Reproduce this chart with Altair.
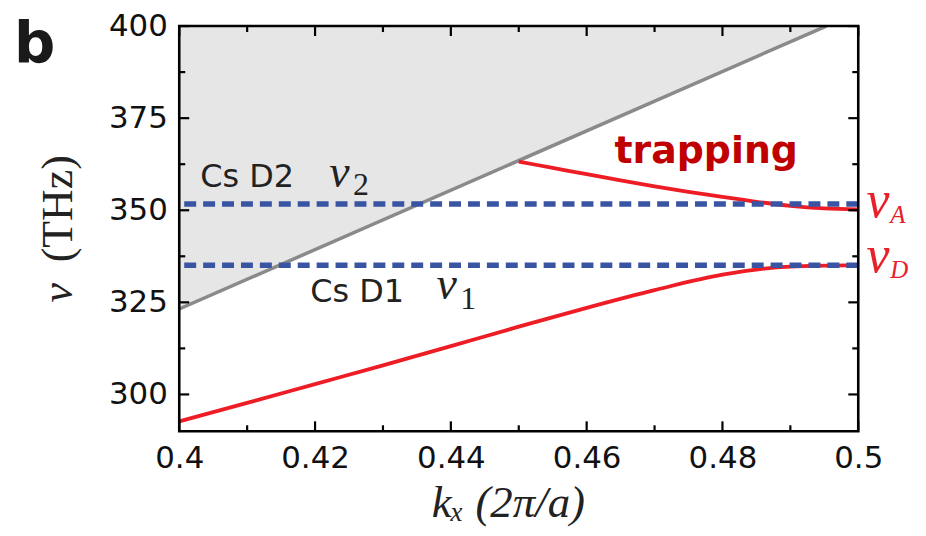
import altair as alt
import pandas as pd

# ---- data ----
k_light = [0.40, 0.4953]
nu_light = [323.2, 400.0]

k_lower = [0.40, 0.41, 0.42, 0.43, 0.44, 0.45, 0.46, 0.47, 0.48, 0.49, 0.50]
nu_lower = [292.7, 297.7, 302.8, 307.9, 313.1, 318.4, 323.5, 328.3, 332.5, 334.7, 335.1]

k_upper = [0.45, 0.455, 0.46, 0.465, 0.47, 0.475, 0.48, 0.485, 0.49, 0.495, 0.50]
nu_upper = [363.2, 361.5, 359.8, 358.1, 356.5, 355.0, 353.6, 352.3, 351.2, 350.5, 350.2]

nu_cs = [351.7, 335.1]  # Cs D2, Cs D1

x_major = [0.40, 0.42, 0.44, 0.46, 0.48, 0.50]
x_minor = [0.41, 0.43, 0.45, 0.47, 0.49]
y_major = [300, 325, 350, 375, 400]
y_minor = [312.5, 337.5, 362.5, 387.5]

W, H = 682, 407
xs = alt.Scale(domain=[0.4, 0.5], nice=False, zero=False)
ys = alt.Scale(domain=[290, 400], nice=False, zero=False)

RED = "#ee1c25"
BLUE = "#3a54a4"

light_df = pd.DataFrame({"k": k_light, "nu": nu_light, "top": [400.0] * len(k_light)})
lower_df = pd.DataFrame({"k": k_lower, "nu": nu_lower})
upper_df = pd.DataFrame({"k": k_upper, "nu": nu_upper})
cs_df = pd.DataFrame({"nu": nu_cs})

x_axis = alt.Axis(
    values=x_major, format=".2~f", domain=False, ticks=False, tickSize=0, grid=False,
    labelFont="DejaVu Sans", labelFontSize=31, labelColor="#111", labelPadding=12,
    labelFlush=False,
    title="kₓ  (2π/a)", titleFont="Liberation Serif", titleFontSize=45,
    titleFontStyle="italic", titleFontWeight="normal", titleColor="#222",
    titleX=330, titleY=86, titleAlign="center", titleBaseline="alphabetic",
)
y_axis = alt.Axis(
    values=y_major, format="d", domain=False, ticks=False, tickSize=0, grid=False,
    labelFont="DejaVu Sans", labelFontSize=31, labelColor="#111", labelPadding=12,
    labelFlush=False,
    title="(THz)", titleFont="Liberation Serif", titleFontSize=44,
    titleFontWeight="normal", titleColor="#222",
    titleX=-108, titleY=183, titleAngle=270, titleAlign="center",
    titleBaseline="alphabetic",
)


def X(f):
    return alt.X(f, scale=xs, axis=x_axis)


def Y(f):
    return alt.Y(f, scale=ys, axis=y_axis)


area = alt.Chart(light_df).mark_area(color="#e6e6e6", clip=True).encode(
    x=X("k:Q"), y=Y("nu:Q"), y2=alt.Y2("top:Q"),
)
light = alt.Chart(light_df).mark_line(color="#8a8a8a", strokeWidth=3.5, clip=True).encode(
    x=X("k:Q"), y=Y("nu:Q"),
)
lower = alt.Chart(lower_df).mark_line(color=RED, strokeWidth=3.8, interpolate="monotone").encode(
    x=X("k:Q"), y=Y("nu:Q"),
)
upper = alt.Chart(upper_df).mark_line(color=RED, strokeWidth=3.8, interpolate="monotone").encode(
    x=X("k:Q"), y=Y("nu:Q"),
)
cs = alt.Chart(cs_df).mark_rule(color=BLUE, strokeWidth=5.5, strokeDash=[12, 7]).encode(
    y=Y("nu:Q"),
)


def xticks(vals, length):
    d = pd.DataFrame({"k": vals})
    bot = alt.Chart(d).mark_rule(color="black", strokeWidth=2.2).encode(
        x=X("k:Q"), y=alt.value(H), y2=alt.value(H - length))
    top = alt.Chart(d).mark_rule(color="black", strokeWidth=2.2).encode(
        x=X("k:Q"), y=alt.value(0), y2=alt.value(length))
    return [bot, top]


def yticks(vals, length):
    d = pd.DataFrame({"nu": vals})
    left = alt.Chart(d).mark_rule(color="black", strokeWidth=2.2).encode(
        y=Y("nu:Q"), x=alt.value(0), x2=alt.value(length))
    right = alt.Chart(d).mark_rule(color="black", strokeWidth=2.2).encode(
        y=Y("nu:Q"), x=alt.value(W), x2=alt.value(W - length))
    return [left, right]


one = pd.DataFrame({"z": [0]})
frame = alt.Chart(one).mark_rect(fillOpacity=0, stroke="black", strokeWidth=2.6).encode(
    x=alt.value(0), x2=alt.value(W), y=alt.value(0), y2=alt.value(H))


def label(text, k, nu, **style):
    d = pd.DataFrame({"k": [k], "nu": [nu]})
    return alt.Chart(d).mark_text(text=text, align="left", baseline="alphabetic", **style).encode(
        x=X("k:Q"), y=Y("nu:Q"))


texts = [
    label("Cs D2", 0.4031, 356.3, font="DejaVu Sans", fontSize=32, color="#222"),
    label("ν", 0.4221, 356.3, font="Liberation Serif", fontStyle="italic", fontSize=46, color="#222"),
    label("2", 0.4256, 354.1, font="Liberation Serif", fontSize=32, color="#222"),
    label("Cs D1", 0.4193, 325.2, font="DejaVu Sans", fontSize=32, color="#222"),
    label("ν", 0.4379, 325.8, font="Liberation Serif", fontStyle="italic", fontSize=46, color="#222"),
    label("1", 0.4414, 323.1, font="Liberation Serif", fontSize=32, color="#222"),
    label("trapping", 0.4641, 362.8, font="DejaVu Sans", fontWeight="bold", fontSize=38, color="#c00000"),
    label("ν", 0.5012, 348.2, font="Liberation Serif", fontStyle="italic", fontSize=52, color="#e8202a"),
    label("A", 0.5047, 346.6, font="Liberation Serif", fontStyle="italic", fontSize=25, color="#e8202a"),
    label("ν", 0.5012, 333.3, font="Liberation Serif", fontStyle="italic", fontSize=52, color="#e8202a"),
    label("D", 0.5047, 331.7, font="Liberation Serif", fontStyle="italic", fontSize=25, color="#e8202a"),
]

nu_title = alt.Chart(one).mark_text(
    text="ν", font="Liberation Serif", fontStyle="italic", fontSize=44, color="#222",
    angle=270, align="center", baseline="alphabetic",
).encode(x=alt.value(-108), y=alt.value(268))

panel = alt.Chart(one).mark_text(
    text="b", font="DejaVu Sans", fontWeight="bold", fontSize=58, color="#1a1a1a",
    align="left", baseline="alphabetic",
).encode(x=alt.value(-166), y=alt.value(36))

layers = [area, light, lower, upper, cs]
layers += xticks(x_major, 10) + xticks(x_minor, 6) + yticks(y_major, 10) + yticks(y_minor, 6)
layers += [frame] + texts + [nu_title, panel]

chart = alt.layer(*layers).properties(
    width=W, height=H,
    autosize=alt.AutoSizeParams(type="none"),
    padding={"left": 172, "top": 17, "right": 60, "bottom": 95},
    background="white",
).configure_view(stroke=None)

chart.save("out.html", embed_options={"renderer": "svg", "actions": False})
